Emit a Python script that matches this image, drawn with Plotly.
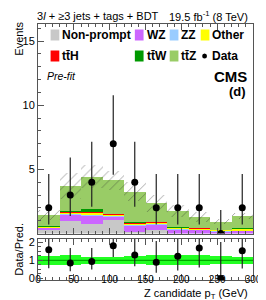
import numpy as np
import plotly.graph_objects as go

# ---------------- data ----------------
bin_lo = [0, 30, 60, 90, 120, 150, 180, 210, 240, 270]
bin_w = 30
nonprompt = [0.25, 1.00, 0.78, 1.04, 0.15, 0.30, 0.00, 0.00, 0.00, 0.00]
wz        = [0.20, 0.48, 0.62, 0.30, 0.50, 0.42, 0.35, 0.30, 0.18, 0.25]
zz        = [0.02, 0.05, 0.10, 0.05, 0.05, 0.03, 0.02, 0.02, 0.02, 0.02]
other     = [0.05, 0.12, 0.15, 0.10, 0.10, 0.10, 0.07, 0.07, 0.08, 0.10]
tth       = [0.05, 0.08, 0.10, 0.05, 0.05, 0.05, 0.05, 0.04, 0.02, 0.03]
ttw       = [0.02, 0.03, 0.15, 0.02, 0.02, 0.02, 0.02, 0.02, 0.01, 0.01]
ttz       = [0.84, 1.94, 2.53, 2.60, 2.39, 1.42, 1.23, 0.85, 0.60, 0.97]
unc_rel   = [0.26, 0.27, 0.20, 0.18, 0.23, 0.27, 0.27, 0.28, 0.22, 0.18]

data      = [2, 3, 4, 7, 4, 2, 2, 2, 0, 2]
data_up   = [2.64, 2.92, 3.16, 3.77, 3.16, 2.64, 2.64, 2.64, 1.84, 2.64]
data_dn   = [1.29, 1.63, 1.91, 2.42, 1.91, 1.29, 1.29, 1.29, 0.00, 1.29]
ratio     = [1.59, 0.85, 0.94, 1.81, 1.29, 0.89, 1.22, 1.68, 0.00, 1.53]

names  = ["Non-prompt", "WZ", "ZZ", "Other", "tt\u0304H", "tt\u0304W", "tt\u0304Z"]
colors = ["#c8c8c8", "#cc66ff", "#99ccff", "#ffff00", "#ff0000", "#009900", "#99cc66"]
comps  = [nonprompt, wz, zz, other, tth, ttw, ttz]

# ---------------- figure ----------------
W, H = 266, 300
ML, MR, MT, MB = 30, 14, 16, 28
PW, PH = W - ML - MR, H - MT - MB

def px(x):
    return (x - ML) / PW

def py(y):
    return (H - MB - y) / PH

fig = go.Figure()
centers = np.array(bin_lo) + bin_w / 2
base = np.zeros(len(bin_lo))
for vals, col, nm in zip(comps, colors, names):
    v = np.array(vals)
    fig.add_trace(go.Bar(x=centers, y=v, base=base, width=bin_w, marker=dict(color=col, line=dict(width=0)),
                         name=nm, showlegend=False, xaxis="x", yaxis="y"))
    base = base + v
tot = base
u = np.array(unc_rel)

# hatched uncertainty band
fig.add_trace(go.Bar(x=centers, y=2 * tot * u, base=tot * (1 - u), width=bin_w,
                     marker=dict(color="rgba(0,0,0,0)", line=dict(width=0),
                                 pattern=dict(shape="/", fgcolor="#333333", bgcolor="rgba(0,0,0,0)",
                                              size=7, solidity=0.12)),
                     showlegend=False, xaxis="x", yaxis="y"))

d = np.array(data, dtype=float)
fig.add_trace(go.Scatter(x=centers, y=d, mode="markers",
                         marker=dict(color="black", size=7),
                         error_y=dict(type="data", array=data_up, arrayminus=data_dn, width=0,
                                      thickness=1.2, color="#222222"),
                         showlegend=False, xaxis="x", yaxis="y"))

# ratio band
fig.add_trace(go.Bar(x=centers, y=2 * u, base=1 - u, width=bin_w,
                     marker=dict(color="#22ff22", line=dict(width=0)),
                     showlegend=False, xaxis="x2", yaxis="y2"))
fig.add_trace(go.Scatter(x=[0, 300], y=[1, 1], mode="lines", line=dict(color="#00aa00", width=1.2),
                         showlegend=False, xaxis="x2", yaxis="y2"))
r = np.array(ratio)
r_up = np.where(d > 0, r * np.array(data_up) / np.maximum(d, 1e-9), np.array(data_up) / tot)
r_dn = np.where(d > 0, r * np.array(data_dn) / np.maximum(d, 1e-9), 0.0)
fig.add_trace(go.Scatter(x=centers, y=r, mode="markers",
                         marker=dict(color="black", size=7),
                         error_y=dict(type="data", array=r_up, arrayminus=r_dn, width=0,
                                      thickness=1.2, color="#222222"),
                         showlegend=False, xaxis="x2", yaxis="y2"))

font = "Liberation Sans, Arial, sans-serif"
axcommon = dict(showline=True, linecolor="#555555", linewidth=1, mirror=True,
                ticks="inside", tickcolor="#555555", showgrid=False, zeroline=False,
                tickfont=dict(family=font, size=11, color="black"))

fig.update_layout(
    width=W, height=H, margin=dict(l=ML, r=MR, t=MT, b=MB),
    paper_bgcolor="white", plot_bgcolor="white", barmode="overlay", bargap=0,
    showlegend=False,
    xaxis=dict(**axcommon, domain=[0, 1], range=[0, 300], anchor="y", showticklabels=False,
               dtick=50, ticklen=6, minor=dict(dtick=10, ticklen=3, ticks="inside", tickcolor="#555555")),
    yaxis=dict(**axcommon, domain=[0.1816, 1], range=[0, 16.33], anchor="x", dtick=5, ticklen=6,
               tickvals=[5, 10, 15],
               minor=dict(dtick=1, ticklen=3, ticks="inside", tickcolor="#555555")),
    xaxis2=dict(**axcommon, domain=[0, 1], range=[0, 300], anchor="y2", dtick=50, ticklen=6,
                ticklabelstandoff=-10,
                minor=dict(dtick=10, ticklen=3, ticks="inside", tickcolor="#555555")),
    yaxis2=dict(**axcommon, domain=[0, 0.160], range=[-0.09, 2.18], anchor="x2",
                tickvals=[0, 1, 2], ticklen=5,
                minor=dict(dtick=0.25, ticklen=3, ticks="inside", tickcolor="#555555")),
)
fig.update_xaxes(mirror="ticks")
fig.update_layout(xaxis2_tickfont_size=10)

ann = []
def text(x, y, s, size, xanchor="left", bold=False, italic=False, angle=0, yanchor="middle"):
    if bold:
        s = "<b>" + s + "</b>"
    if italic:
        s = "<i>" + s + "</i>"
    ann.append(dict(x=px(x), y=py(y), xref="paper", yref="paper", text=s, showarrow=False,
                    xanchor=xanchor, yanchor=yanchor, textangle=angle,
                    font=dict(family=font, size=size, color="black")))

# titles
text(27, 8, "3<i>l</i> + \u22653 jets + tags + BDT", 11)
text(249, 8, "19.5 fb<sup>-1</sup> (8 TeV)", 11, xanchor="right")
text(10, 31, "Events", 11, angle=-90, xanchor="center")
text(10, 241, "Data/Pred.", 11, angle=-90, xanchor="center")
text(249, 286, "Z candidate p<sub>T</sub> (GeV)", 11, xanchor="right")
text(37, 68, "Pre-fit", 10.5, italic=True)
text(248, 68, "CMS", 15, xanchor="right", bold=True)
text(247, 83, "(d)", 13, xanchor="right", bold=True)

# legend
shapes = []
leg = [(43, 27, 0, "Non-prompt"), (130, 27, 1, "WZ"), (166, 27, 2, "ZZ"), (198, 27, 3, "Other"),
       (43, 48, 4, "tt\u0304H"), (130, 48, 5, "tt\u0304W"), (166, 48, 6, "tt\u0304Z")]
for x0, yc, i, nm in leg:
    shapes.append(dict(type="rect", xref="paper", yref="paper", x0=px(x0), x1=px(x0 + 9),
                       y0=py(yc + 5.5), y1=py(yc - 5.5), fillcolor=colors[i], line=dict(width=0)))
    text(x0 + 10, yc, nm, 12, bold=True)
shapes.append(dict(type="circle", xref="paper", yref="paper", x0=px(199.5), x1=px(204.5),
                   y0=py(50.5), y1=py(45.5), fillcolor="black", line=dict(width=0)))
text(208, 48, "Data", 12, bold=True)

fig.update_layout(annotations=ann, shapes=shapes)
fig.write_html("out.html")
